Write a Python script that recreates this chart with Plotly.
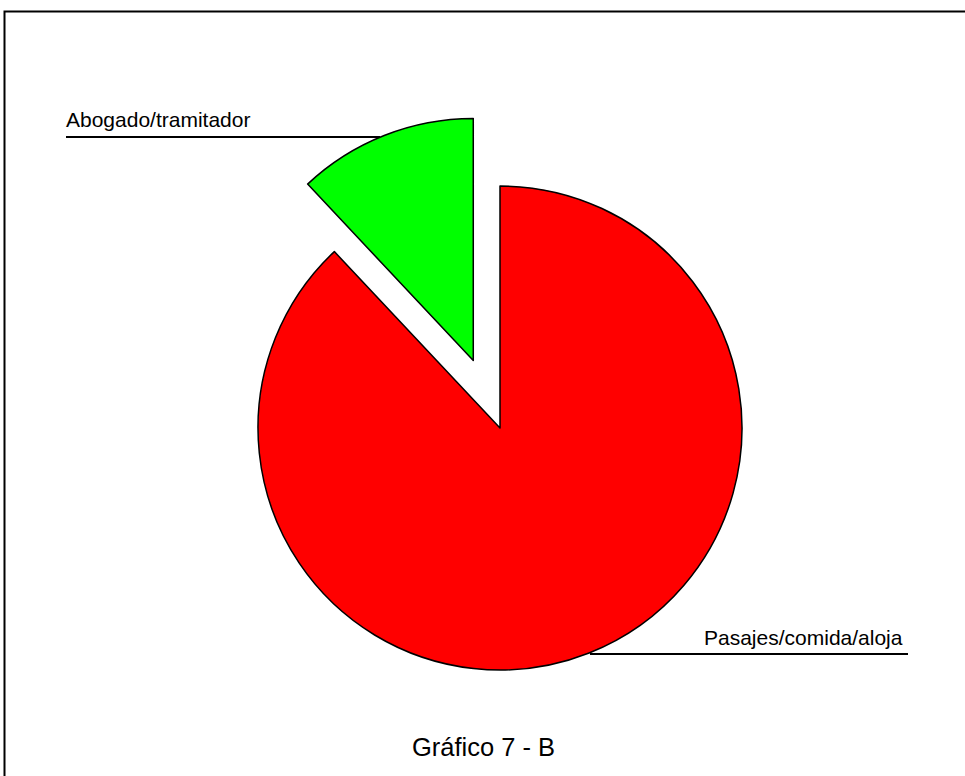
import plotly.graph_objects as go

labels = ["Pasajes/comida/aloja", "Abogado/tramitador"]
values = [88, 12]
colors = ["#ff0000", "#00ff00"]
pulls = [0, 0.3]
title = "Gráfico 7 - B"

W, H = 965, 776

def px(x):
    return x / W

def py(y):
    return (H - y) / H

fig = go.Figure()

fig.add_trace(go.Pie(
    labels=labels,
    values=values,
    sort=False,
    direction="clockwise",
    rotation=0,
    pull=pulls,
    marker=dict(colors=colors, line=dict(color="black", width=1.5)),
    textinfo="none",
    hoverinfo="label+percent",
    showlegend=False,
    domain=dict(x=[px(185.4), px(814.6)], y=[py(742.6), py(113.4)])
))

font = dict(family="Liberation Sans, Arial, sans-serif", color="black")

fig.update_layout(
    width=W,
    height=H,
    paper_bgcolor="white",
    plot_bgcolor="white",
    margin=dict(l=0, r=0, t=0, b=0),
    font=font,
    annotations=[
        dict(text=labels[1], x=px(64), y=py(119), xref="paper", yref="paper",
             xanchor="left", yanchor="middle", showarrow=False,
             font=dict(size=21)),
        dict(text=labels[0], x=px(905), y=py(637), xref="paper", yref="paper",
             xanchor="right", yanchor="middle", showarrow=False,
             font=dict(size=21)),
        dict(text=title, x=px(483.5), y=py(747), xref="paper", yref="paper",
             xanchor="center", yanchor="middle", showarrow=False,
             font=dict(size=25.5)),
    ],
    shapes=[
        # leader lines
        dict(type="line", xref="paper", yref="paper",
             x0=px(66), x1=px(380), y0=py(137), y1=py(137),
             line=dict(color="black", width=2)),
        dict(type="line", xref="paper", yref="paper",
             x0=px(590), x1=px(908), y0=py(654), y1=py(654),
             line=dict(color="black", width=2)),
        # outer frame (cut off at right/bottom)
        dict(type="rect", xref="paper", yref="paper",
             x0=px(4.5), x1=1.02, y0=-0.02, y1=py(11.5),
             line=dict(color="black", width=2)),
    ],
)

# drop the default page margin so the figure sits at the window's corner
fig.write_html("out.html", config={"displayModeBar": False},
               post_script="document.body.style.margin='0px';")
